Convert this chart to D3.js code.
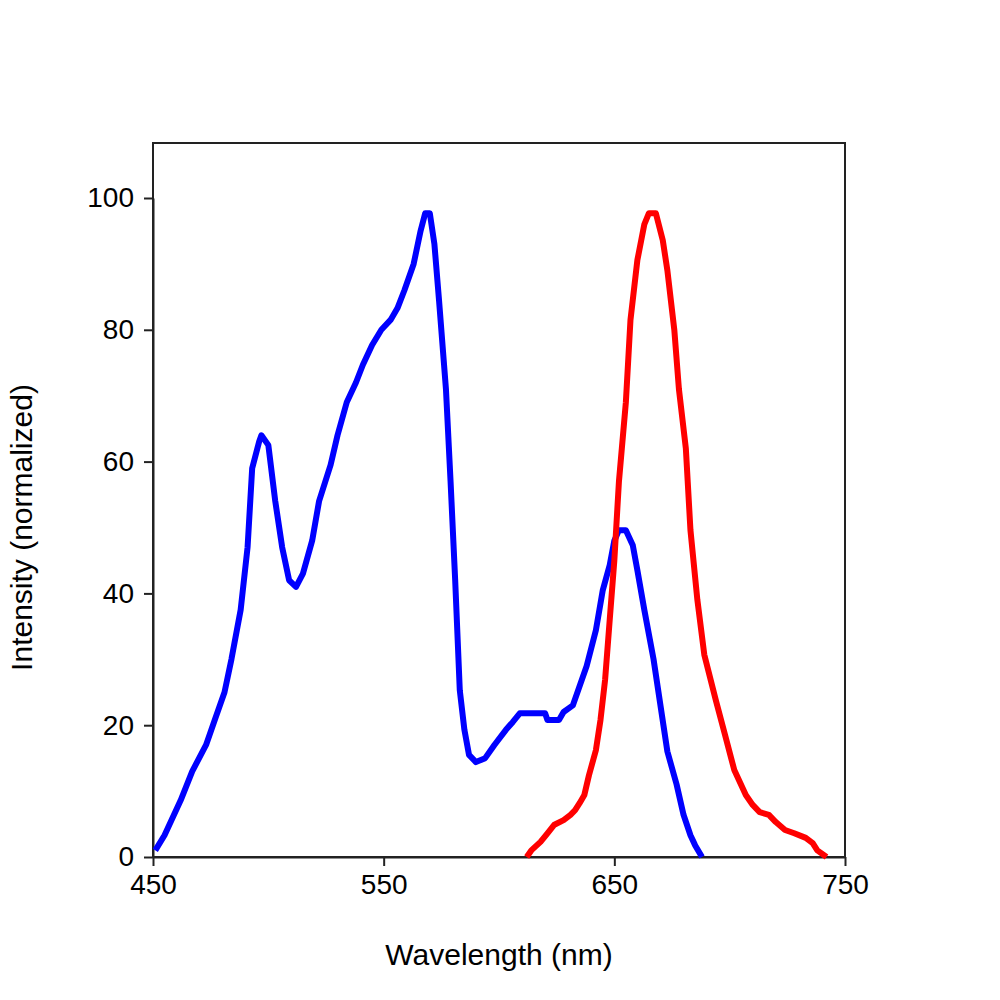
<!DOCTYPE html>
<html><head><meta charset="utf-8">
<script src="https://d3js.org/d3.v7.min.js"></script>
<style>body{margin:0;background:#fff}</style></head>
<body><svg id="c" width="1000" height="1000"></svg>
<script>
const blueX=[451,455,462,467,473,477,481,484,488,491,493,496,497,500,503,506,509,512,515,519,522,527,530,534,538,541,545,549,553,556,559,563,566,568,570,572,574,577,579,581,583,585,587,590,594,598,603,606,609,620,621,626,628,632,635,638,642,645,648,650,652,655,658,660,663,667,670,673,677,680,683,685,688];
const blueY=[1,3.3,8.6,13,17,21,25,30,37.5,47,59,63,64,62.5,54,47,42,41,43,48,54,59.5,64,69,72,74.7,77.7,80,81.5,83.3,86,90,95,97.7,97.7,93,84.5,71,57,42,25.3,19.3,15.5,14.4,15,17,19.3,20.5,21.8,21.8,20.8,20.8,22,23,26,29,34.4,40.5,44.3,48,49.6,49.6,47.3,43.5,37.5,30,23,16,11,6.4,3.3,1.8,0];
const redX=[612,614,618,621,624,628,631,633,635,637,639,642,644,646,648,650,652,655,657,660,663,665,668,671,673,676,678,681,683,686,689,694,698,702,707,710,713,717,720,724,728,733,736,738,742];
const redY=[0,1,2.3,3.6,4.9,5.6,6.4,7.1,8.2,9.4,12.4,16.2,20.8,26.9,36,45,57,69,81.5,90.6,96,97.7,97.7,93.6,89,80,71,62,49.6,39,30.7,23.8,18.5,13.2,9.4,7.9,6.8,6.4,5.3,4.1,3.6,2.9,2.1,1,0];
const xTicks=[450,550,650,750];
const yTicks=[0,20,40,60,80,100];

const svg=d3.select("#c");
const L=153,R=845,T=143,B=857;
const x=d3.scaleLinear().domain([450,750]).range([L,R]);
const y=d3.scaleLinear().domain([0,100]).range([B,198]);
const font="Liberation Sans, Arial, sans-serif";

const gx=svg.append("g").attr("transform",`translate(0,${B})`)
 .call(d3.axisBottom(x).tickValues(xTicks).tickSize(9).tickSizeOuter(0).tickPadding(8));
const gy=svg.append("g").attr("transform",`translate(${L},0)`)
 .call(d3.axisLeft(y).tickValues(yTicks).tickSize(9).tickSizeOuter(0).tickPadding(10));
[gx,gy].forEach(g=>{g.selectAll("text").attr("font-family",font).attr("font-size",28).attr("fill","#000");
 g.selectAll("line,path").attr("stroke","#222").attr("stroke-width",2);});
svg.append("rect").attr("x",L).attr("y",T).attr("width",R-L).attr("height",B-T)
 .attr("fill","none").attr("stroke","#222").attr("stroke-width",2);

const line=d3.line().x(d=>x(d[0])).y(d=>y(d[1]));
svg.append("path").datum(blueX.map((v,i)=>[v,blueY[i]])).attr("d",line)
 .attr("fill","none").attr("stroke","#0000ff").attr("stroke-width",6).attr("stroke-linejoin","round");
svg.append("path").datum(redX.map((v,i)=>[v,redY[i]])).attr("d",line)
 .attr("fill","none").attr("stroke","#ff0000").attr("stroke-width",6).attr("stroke-linejoin","round");

svg.append("text").attr("x",(L+R)/2).attr("y",965).attr("text-anchor","middle")
 .attr("font-family",font).attr("font-size",30).text("Wavelength (nm)");
svg.append("text").attr("transform",`translate(32,${(198+B)/2}) rotate(-90)`).attr("text-anchor","middle")
 .attr("font-family",font).attr("font-size",30).text("Intensity (normalized)");
</script></body></html>
